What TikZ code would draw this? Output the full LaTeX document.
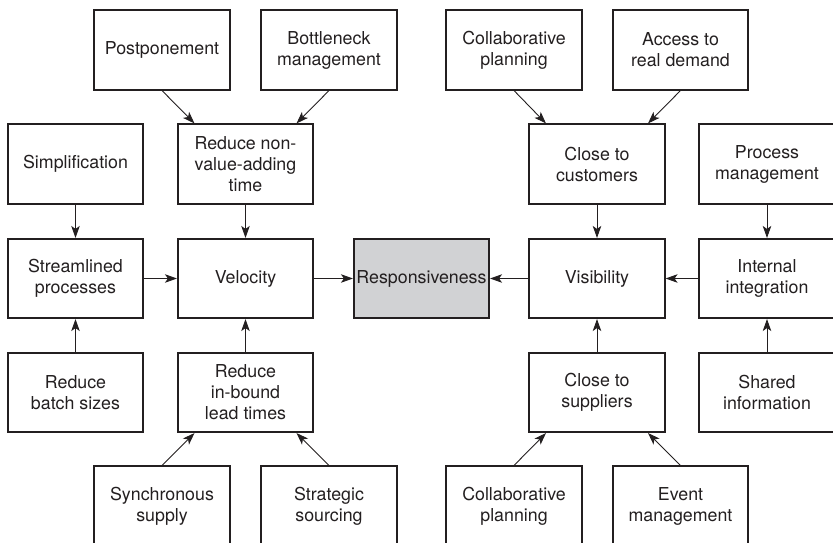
\documentclass[tikz,border=0pt]{standalone}
\usepackage{fontspec}
\setmainfont{TeX Gyre Heros}
\usetikzlibrary{arrows.meta}
\definecolor{ink}{HTML}{231F20}
\definecolor{hub}{HTML}{D1D2D4}
\tikzset{
  box/.style={draw=ink,line width=1.6pt,minimum width=135.5pt,minimum height=79.5pt,
    align=center,inner sep=2pt,text=ink,font=\fontsize{17.8}{21}\selectfont},
  arr/.style={draw=ink,line width=0.9pt,-{Stealth[length=12pt,width=8.5pt,inset=3pt]}}
}
\begin{document}
\begin{tikzpicture}[x=1pt,y=-1pt]
\clip (0,0) rectangle (833,543);
% velocity side
\node[box] (pp) at (162,50) {Postponement};
\node[box] (bm) at (329,50) {Bottleneck\\management};
\node[box] (sim) at (75.5,164) {Simplification};
\node[box] (rnv) at (245.5,164) {Reduce non-\\value-adding\\time};
\node[box] (sp) at (75.5,278.5) {Streamlined\\processes};
\node[box] (vel) at (245.5,278.5) {Velocity};
\node[box] (rbs) at (75.5,392.5) {Reduce\\batch sizes};
\node[box] (rib) at (245.5,392.5) {Reduce\\in-bound\\lead times};
\node[box] (ss) at (162,506) {Synchronous\\supply};
\node[box] (sts) at (329,506) {Strategic\\sourcing};
% centre
\node[box,fill=hub] (resp) at (421.5,278.5) {Responsiveness};
% visibility side
\node[box] (cpt) at (514,50) {Collaborative\\planning};
\node[box] (ard) at (680.5,50) {Access to\\real demand};
\node[box] (ctc) at (597,164) {Close to\\customers};
\node[box] (pm) at (767,164) {Process\\management};
\node[box] (vis) at (597,278.5) {Visibility};
\node[box] (ii) at (767,278.5) {Internal\\integration};
\node[box] (cts) at (597,392.5) {Close to\\suppliers};
\node[box] (si) at (767,392.5) {Shared\\information};
\node[box] (cpb) at (514,506) {Collaborative\\planning};
\node[box] (em) at (680.5,506) {Event\\management};

\draw[arr] (pp.south) -- ([xshift=-51pt]rnv.north);
\draw[arr] (bm.south) -- ([xshift=51pt]rnv.north);
\draw[arr] (ss.north) -- ([xshift=-51pt]rib.south);
\draw[arr] (sts.north) -- ([xshift=51pt]rib.south);
\draw[arr] (sim) -- (sp);
\draw[arr] (rbs) -- (sp);
\draw[arr] (rnv) -- (vel);
\draw[arr] (rib) -- (vel);
\draw[arr] (sp) -- (vel);
\draw[arr] (vel) -- (resp);

\draw[arr] (cpt.south) -- ([xshift=-51pt]ctc.north);
\draw[arr] (ard.south) -- ([xshift=51pt]ctc.north);
\draw[arr] (cpb.north) -- ([xshift=-51pt]cts.south);
\draw[arr] (em.north) -- ([xshift=51pt]cts.south);
\draw[arr] (ctc) -- (vis);
\draw[arr] (cts) -- (vis);
\draw[arr] (pm) -- (ii);
\draw[arr] (si) -- (ii);
\draw[arr] (ii) -- (vis);
\draw[arr] (vis) -- (resp);
\end{tikzpicture}
\end{document}
